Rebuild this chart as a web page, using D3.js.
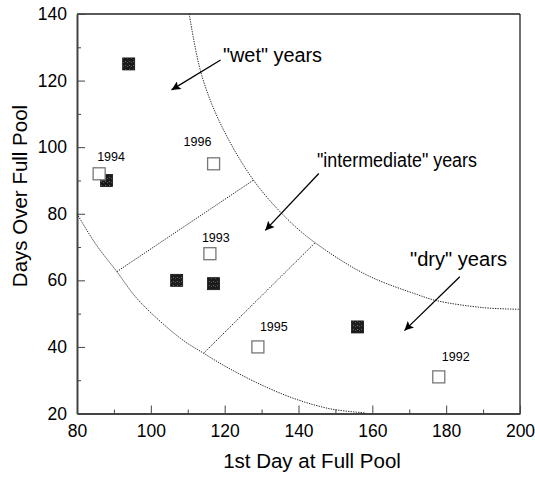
<!DOCTYPE html>
<html>
<head>
<meta charset="utf-8">
<script src="https://cdn.jsdelivr.net/npm/d3@7"></script>
<style>
  html, body { margin: 0; padding: 0; background: #fff; }
  svg { display: block; }
  text { font-family: "Liberation Sans", Arial, Helvetica, sans-serif; fill: #000; }
</style>
</head>
<body>
<svg id="chart" width="535" height="483"></svg>
<script>
// ---- data ----
const xTicks = [80, 100, 120, 140, 160, 180, 200];
const yTicks = [20, 40, 60, 80, 100, 120, 140];
const openYears = ["1994", "1996", "1993", "1995", "1992"];
const openX = [86, 117, 116, 129, 178];
const openY = [92, 95, 68, 40, 31];
const filledX = [94, 88, 107, 117, 156];
const filledY = [125, 90, 60, 59, 46];
// zone boundary curves (traced)
const outerCurveX = [110.4, 113.6, 118.8, 127.8, 136.8, 144.5, 158.5, 172.5, 177.4, 190, 200];
const outerCurveY = [140, 122.3, 107.2, 90.1, 78.6, 71.3, 61.6, 55.6, 53.9, 51.8, 51.3];
const innerCurveX = [80, 85, 90.8, 96.6, 108, 114.3, 121.1, 131.1, 140.1, 149.1, 158];
const innerCurveY = [80, 71, 62.6, 54.1, 42.6, 38.1, 33.6, 28.0, 24.0, 21.3, 20.2];
const divider1X = [90.8, 127.8], divider1Y = [62.6, 90.1];
const divider2X = [114.3, 144.5], divider2Y = [38.1, 71.3];
// annotations
const zoneLabels = ['"wet" years', '"intermediate" years', '"dry" years'];
const arrowFromX = [118.9, 145.5, 183.7], arrowFromY = [126.2, 92.1, 61.1];
const arrowToX = [105.6, 131.0, 168.7], arrowToY = [117.2, 75.0, 44.9];

// ---- layout ----
const L = 77, R = 520, T = 14, B = 413.5;
const svg = d3.select("#chart");
const x = d3.scaleLinear().domain([80, 200]).range([L, R]);
const y = d3.scaleLinear().domain([20, 140]).range([B, T]);

// frame top/right
svg.append("line").attr("x1", L).attr("x2", R).attr("y1", T).attr("y2", T)
  .attr("stroke", "#222").attr("stroke-width", 1.3);
svg.append("line").attr("x1", R).attr("x2", R).attr("y1", T).attr("y2", B)
  .attr("stroke", "#222").attr("stroke-width", 1.3);

// minor ticks
const xMinor = d3.range(90, 200, 20);
const yMinor = d3.range(30, 140, 20);
svg.append("g").attr("transform", `translate(0,${B})`)
  .call(d3.axisBottom(x).tickValues(xMinor).tickSize(-4).tickFormat(""))
  .call(g => g.select(".domain").remove())
  .call(g => g.selectAll("line").attr("stroke", "#444").attr("stroke-width", 1));
svg.append("g").attr("transform", `translate(${L},0)`)
  .call(d3.axisLeft(y).tickValues(yMinor).tickSize(-4).tickFormat(""))
  .call(g => g.select(".domain").remove())
  .call(g => g.selectAll("line").attr("stroke", "#444").attr("stroke-width", 1));

// major axes
const xAxis = svg.append("g").attr("transform", `translate(0,${B})`)
  .call(d3.axisBottom(x).tickValues(xTicks).tickSize(-8).tickPadding(11).tickSizeOuter(0));
const yAxis = svg.append("g").attr("transform", `translate(${L},0)`)
  .call(d3.axisLeft(y).tickValues(yTicks).tickSize(-8).tickPadding(10).tickSizeOuter(0));
[xAxis, yAxis].forEach(g => {
  g.select(".domain").attr("stroke", "#444").attr("stroke-width", 2);
  g.selectAll(".tick line").attr("stroke", "#444").attr("stroke-width", 1);
  g.selectAll(".tick text").attr("font-size", 17.5)
    .attr("font-family", '"Liberation Sans", Arial, sans-serif').attr("fill", "#000");
});

// boundary curves
const line = d3.line().x(d => x(d[0])).y(d => y(d[1])).curve(d3.curveCatmullRom);
const dotted = sel => sel.attr("fill", "none").attr("stroke", "#222")
  .attr("stroke-width", 1).attr("stroke-dasharray", "1.3,1.2");
svg.append("path").datum(outerCurveX.map((v, i) => [v, outerCurveY[i]])).attr("d", line).call(dotted);
svg.append("path").datum(innerCurveX.map((v, i) => [v, innerCurveY[i]])).attr("d", line).call(dotted);
svg.append("path").datum(divider1X.map((v, i) => [v, divider1Y[i]])).attr("d", d3.line().x(d => x(d[0])).y(d => y(d[1]))).call(dotted);
svg.append("path").datum(divider2X.map((v, i) => [v, divider2Y[i]])).attr("d", d3.line().x(d => x(d[0])).y(d => y(d[1]))).call(dotted);

// markers
const S = 12;
const defs = svg.append("defs");
const pat = defs.append("pattern").attr("id", "speck").attr("width", 4).attr("height", 4)
  .attr("patternUnits", "userSpaceOnUse");
pat.append("rect").attr("width", 4).attr("height", 4).attr("fill", "#1c1c1c");
pat.append("rect").attr("x", 1).attr("y", 1).attr("width", 1).attr("height", 1).attr("fill", "#6a6a6a");
pat.append("rect").attr("x", 3).attr("y", 2).attr("width", 1).attr("height", 1).attr("fill", "#555");
svg.append("g").selectAll("rect").data(filledX.map((v, i) => [v, filledY[i]])).join("rect")
  .attr("x", d => x(d[0]) - S / 2).attr("y", d => y(d[1]) - S / 2)
  .attr("width", S).attr("height", S).attr("fill", "url(#speck)").attr("stroke", "#111").attr("stroke-width", 0.8);
svg.append("g").selectAll("rect").data(openX.map((v, i) => [v, openY[i]])).join("rect")
  .attr("x", d => x(d[0]) - S / 2).attr("y", d => y(d[1]) - S / 2)
  .attr("width", S).attr("height", S).attr("fill", "#fff").attr("stroke", "#777").attr("stroke-width", 1.3);

// year labels (offsets are layout only)
const yearDx = [-2, -30, -8, 2, 3];
const yearDy = [-13, -18, -12, -16, -16];
svg.append("g").selectAll("text").data(openYears).join("text")
  .attr("x", (d, i) => x(openX[i]) + yearDx[i])
  .attr("y", (d, i) => y(openY[i]) + yearDy[i])
  .attr("font-size", 12.5).text(d => d);

// arrows
defs.append("marker").attr("id", "ah").attr("viewBox", "0 0 10 10")
  .attr("refX", 10).attr("refY", 5).attr("markerWidth", 17).attr("markerHeight", 9)
  .attr("markerUnits", "userSpaceOnUse").attr("orient", "auto")
  .append("path").attr("d", "M0,0 L10,5 L0,10 L2,5 Z").attr("fill", "#000");
svg.append("g").selectAll("line").data(arrowFromX).join("line")
  .attr("x1", (d, i) => x(arrowFromX[i])).attr("y1", (d, i) => y(arrowFromY[i]))
  .attr("x2", (d, i) => x(arrowToX[i])).attr("y2", (d, i) => y(arrowToY[i]))
  .attr("stroke", "#000").attr("stroke-width", 1.3).attr("marker-end", "url(#ah)");

// zone labels
const zoneLX = [223, 317, 410], zoneLY = [62, 167, 266];
const zoneLen = [99, 160, 97];
svg.append("g").selectAll("text").data(zoneLabels).join("text")
  .attr("x", (d, i) => zoneLX[i]).attr("y", (d, i) => zoneLY[i])
  .attr("font-size", 19.5)
  .attr("textLength", (d, i) => zoneLen[i]).attr("lengthAdjust", "spacingAndGlyphs")
  .text(d => d);

// axis titles
svg.append("text").attr("x", 312).attr("y", 468).attr("text-anchor", "middle")
  .attr("font-size", 20.5).text("1st Day at Full Pool");
svg.append("text").attr("transform", "translate(27,196) rotate(-90)").attr("text-anchor", "middle")
  .attr("font-size", 20.5).text("Days Over Full Pool");
</script>
</body>
</html>
